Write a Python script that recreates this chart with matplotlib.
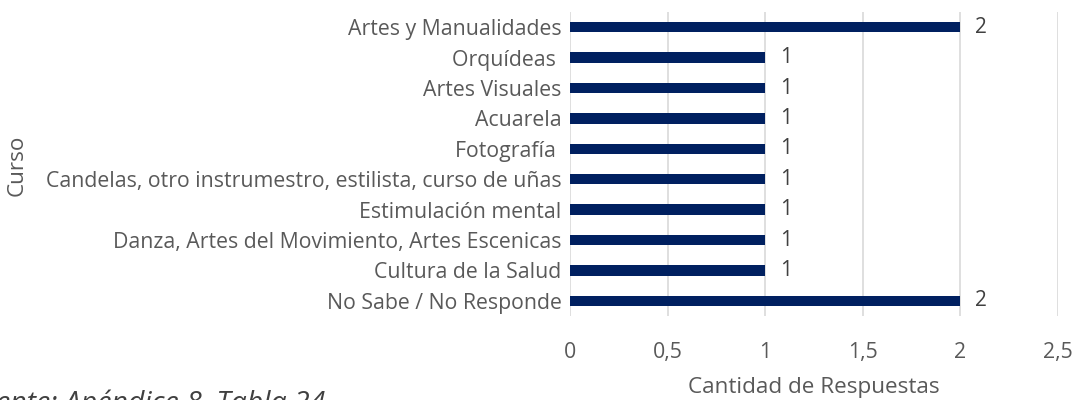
import matplotlib.pyplot as plt

cursos = ['No Sabe / No Responde', 'Cultura de la Salud',
          'Danza, Artes del Movimiento, Artes Escenicas', 'Estimulación mental',
          'Candelas, otro instrumestro, estilista, curso de uñas', 'Fotografía ',
          'Acuarela', 'Artes Visuales', 'Orquídeas ', 'Artes y Manualidades']
respuestas = [2, 1, 1, 1, 1, 1, 1, 1, 1, 2]
ticks = [0, 0.5, 1, 1.5, 2, 2.5]
tick_labels = ['0', '0,5', '1', '1,5', '2', '2,5']

plt.rcParams['font.family'] = ['Open Sans', 'DejaVu Sans']
gris = '#595959'

fig = plt.figure(figsize=(10.74, 4), dpi=100)
ax = fig.add_axes([570 / 1074, 1 - 316 / 400, (1058 - 570) / 1074, (316 - 12) / 400])

pos = range(len(cursos))
barras = ax.barh(pos, respuestas, height=0.34, color='#002060', zorder=3)
for b, v in zip(barras, respuestas):
    ax.text(b.get_width() + 0.075, b.get_y() + b.get_height() / 2, str(v),
            va='center', ha='left', fontsize=15, color='#404040')

ax.set_xlim(0, 2.5)
ax.set_ylim(-0.5, len(cursos) - 0.5)
ax.set_xticks(ticks)
ax.set_xticklabels(tick_labels)
ax.set_yticks(list(pos))
ax.set_yticklabels(cursos)
ax.tick_params(axis='both', length=0, labelsize=15.3, labelcolor=gris)
ax.tick_params(axis='x', pad=19)
ax.tick_params(axis='y', pad=6)
ax.grid(axis='x', color='#d9d9d9', linewidth=1.2, zorder=0)
for s in ax.spines.values():
    s.set_visible(False)

ax.set_xlabel('Cantidad de Respuestas', fontsize=16.2, color=gris, labelpad=10)
fig.text(17 / 1074, 1 - 165 / 400, 'Curso', rotation=90, ha='center', va='center',
         fontsize=16.2, color=gris)

fig.text(325 / 1074, 1 - 411 / 400, 'Fuente: Apéndice 8, Tabla 24', style='italic',
         fontsize=20.5, color='#404040', ha='right', va='baseline')

fig.savefig('out.png', dpi=100)
